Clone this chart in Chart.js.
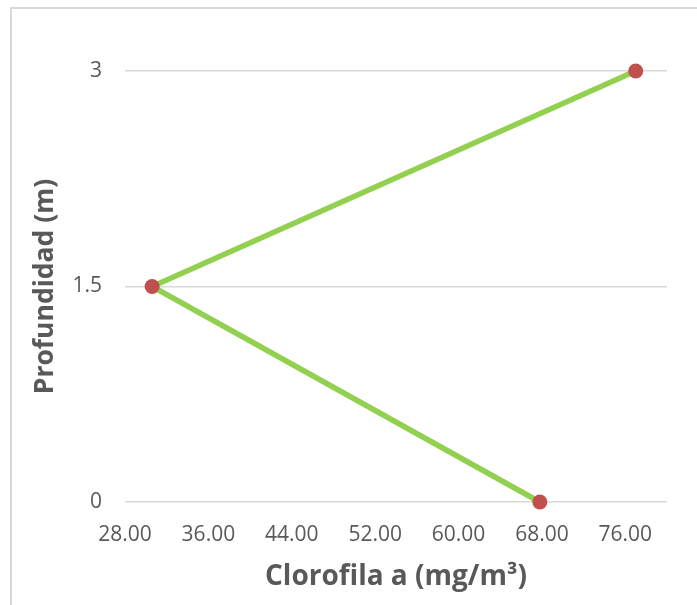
<!DOCTYPE html>
<html>
<head>
<meta charset="utf-8">
<script src="https://cdn.jsdelivr.net/npm/chart.js@4.4.1/dist/chart.umd.min.js"></script>
<style>
  html, body { margin: 0; padding: 0; background: #ffffff; overflow: hidden; }
  #wrap { position: relative; width: 697px; height: 605px; }
  #frame {
    position: absolute; left: 10px; top: 7px; width: 700px; height: 610px;
    border: 2px solid #d9d9d9; box-sizing: border-box;
  }
  canvas { position: absolute; left: 0; top: 0; }
</style>
</head>
<body>
<div id="wrap">
  <div id="frame"></div>
  <canvas id="chart" width="697" height="605"></canvas>
</div>
<script>
// Chlorophyll a concentration by sampling depth
const depths = [0, 1.5, 3];
const chlorophyll = [67.8, 30.6, 77.0];

// Axis ticks
const xTickValues = [28, 36, 44, 52, 60, 68, 76];
const yTickValues = [0, 1.5, 3];

const xTitle = 'Clorofila a (mg/m³)';
const yTitle = 'Profundidad (m)';

const points = depths.map((d, i) => ({ x: chlorophyll[i], y: d }));

const textColor = '#595959';
const gridColor = '#d9d9d9';
const family = "'Open Sans', 'DejaVu Sans', sans-serif";

function draw() {
  Chart.defaults.font.family = family;
  new Chart(document.getElementById('chart'), {
    type: 'scatter',
    data: {
      datasets: [{
        data: points,
        showLine: true,
        borderColor: '#92d050',
        borderWidth: 5.5,
        backgroundColor: '#c0504d',
        pointBackgroundColor: '#c0504d',
        pointBorderColor: '#c0504d',
        pointBorderWidth: 0,
        pointRadius: 7.5,
        pointHoverRadius: 7.5,
        tension: 0,
        clip: false
      }]
    },
    options: {
      responsive: false,
      animation: false,
      devicePixelRatio: 1,
      layout: { padding: { left: 0, right: 30, top: 71, bottom: 0 } },
      plugins: {
        legend: { display: false },
        tooltip: { enabled: false }
      },
      scales: {
        x: {
          type: 'linear',
          min: 28,
          max: 80,
          afterBuildTicks: (scale) => {
            scale.ticks = xTickValues.map(v => ({ value: v }));
          },
          afterFit: (scale) => { scale.height = 103; },
          grid: { display: false, drawTicks: false },
          border: { display: false },
          ticks: {
            color: textColor,
            font: { size: 21 },
            padding: 20,
            maxRotation: 0,
            autoSkip: false,
            callback: (v) => Number(v).toFixed(2)
          },
          title: {
            display: true,
            text: xTitle,
            color: textColor,
            font: { size: 28, weight: 'bold' },
            padding: { top: 0, bottom: 11 }
          }
        },
        y: {
          type: 'linear',
          min: 0,
          max: 3,
          afterBuildTicks: (scale) => {
            scale.ticks = yTickValues.map(v => ({ value: v }));
          },
          afterFit: (scale) => { scale.width = 125; },
          grid: { color: gridColor, lineWidth: 1.5, drawTicks: false },
          border: { display: false },
          ticks: {
            color: textColor,
            font: { size: 21 },
            padding: 23,
            callback: (v) => String(v)
          },
          title: {
            display: true,
            text: yTitle,
            color: textColor,
            font: { size: 26.5, weight: 'bold' },
            padding: { top: 30, bottom: 0 }
          }
        }
      }
    }
  });
}

if (document.fonts && document.fonts.load) {
  Promise.all([
    document.fonts.load("21px 'Open Sans'"),
    document.fonts.load("bold 28px 'Open Sans'")
  ]).then(draw, draw);
} else {
  draw();
}
</script>
</body>
</html>
